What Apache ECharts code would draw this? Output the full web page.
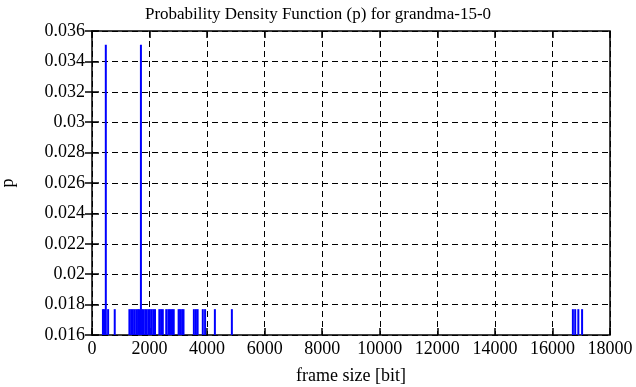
<!DOCTYPE html>
<html>
<head>
<meta charset="utf-8">
<script src="https://cdn.jsdelivr.net/npm/echarts@6/dist/echarts.min.js"></script>
<style>html,body{margin:0;padding:0;background:#fff;}#c{width:636px;height:387px;}</style>
</head>
<body>
<div id="c"></div>
<script>
// frame sizes [bit] and their probability
var frameSizes = [380, 420, 560, 790,
  1300, 1360, 1420, 1480, 1540, 1600,
  1650, 1740, 1790, 1850, 1900, 1960, 2010, 2070, 2130, 2190,
  2340, 2400, 2460,
  2580, 2650, 2710, 2780, 2840,
  3010, 3060, 3130, 3180,
  3540, 3610, 3670, 3850, 3930,
  4270, 4860,
  16710, 16790, 16900, 17030,
  480, 1700];
var probs = [0.0177, 0.0177, 0.0177, 0.0177,
  0.0177, 0.0177, 0.0177, 0.0177, 0.0177, 0.0177,
  0.0177, 0.0177, 0.0177, 0.0177, 0.0177, 0.0177, 0.0177, 0.0177, 0.0177, 0.0177,
  0.0177, 0.0177, 0.0177,
  0.0177, 0.0177, 0.0177, 0.0177, 0.0177,
  0.0177, 0.0177, 0.0177, 0.0177,
  0.0177, 0.0177, 0.0177, 0.0177, 0.0177,
  0.0177, 0.0177,
  0.0177, 0.0177, 0.0177, 0.0177,
  0.0351, 0.0351];
var title = 'Probability Density Function (p) for grandma-15-0';
var xName = 'frame size [bit]';
var yName = 'p';

var data = frameSizes.map(function (x, i) { return [x, probs[i]]; });
var font = 'Liberation Serif';
var chart = echarts.init(document.getElementById('c'), null, {renderer: 'canvas'});
var tickStyle = {show: true, inside: true, length: 7, lineStyle: {color: '#000', width: 1.5}};
var gridLine = {show: true, lineStyle: {color: '#000', width: 1, type: [6, 4]}};
chart.setOption({
  animation: false,
  backgroundColor: '#fff',
  title: {text: title, left: 'center', top: 1,
    textStyle: {fontFamily: font, fontSize: 17, fontWeight: 'normal', color: '#000'}},
  grid: {left: 92, right: 26, top: 31, bottom: 52, show: true, borderColor: '#000', borderWidth: 1.5,
    backgroundColor: 'transparent', containLabel: false, outerBoundsMode: 'none'},
  xAxis: [{
    type: 'value', min: 0, max: 18000, interval: 2000,
    name: xName, nameLocation: 'middle', nameGap: 32,
    nameTextStyle: {fontFamily: font, fontSize: 18, color: '#000'},
    axisLine: {show: false}, axisTick: tickStyle,
    axisLabel: {fontFamily: font, fontSize: 18, color: '#000', margin: 5,
      formatter: function (v) { return String(v); }},
    splitLine: gridLine
  }, {
    type: 'value', min: 0, max: 18000, interval: 2000, position: 'top',
    axisLine: {show: false}, axisTick: tickStyle, axisLabel: {show: false}, splitLine: {show: false}
  }],
  yAxis: [{
    type: 'value', min: 0.016, max: 0.036, interval: 0.002,
    name: yName, nameLocation: 'middle', nameGap: 75, nameRotate: 90,
    nameTextStyle: {fontFamily: font, fontSize: 18, color: '#000'},
    axisLine: {show: false}, axisTick: tickStyle,
    axisLabel: {fontFamily: font, fontSize: 18, color: '#000', margin: 7,
      formatter: function (v) { return String(+v.toFixed(3)); }},
    splitLine: gridLine
  }, {
    type: 'value', min: 0.016, max: 0.036, interval: 0.002, position: 'right',
    axisLine: {show: false}, axisTick: tickStyle, axisLabel: {show: false}, splitLine: {show: false}
  }],
  series: [{
    type: 'bar', data: data, barWidth: 2, clip: true,
    itemStyle: {color: '#0000ff'}, barGap: '-100%'
  }]
});
</script>
</body>
</html>
